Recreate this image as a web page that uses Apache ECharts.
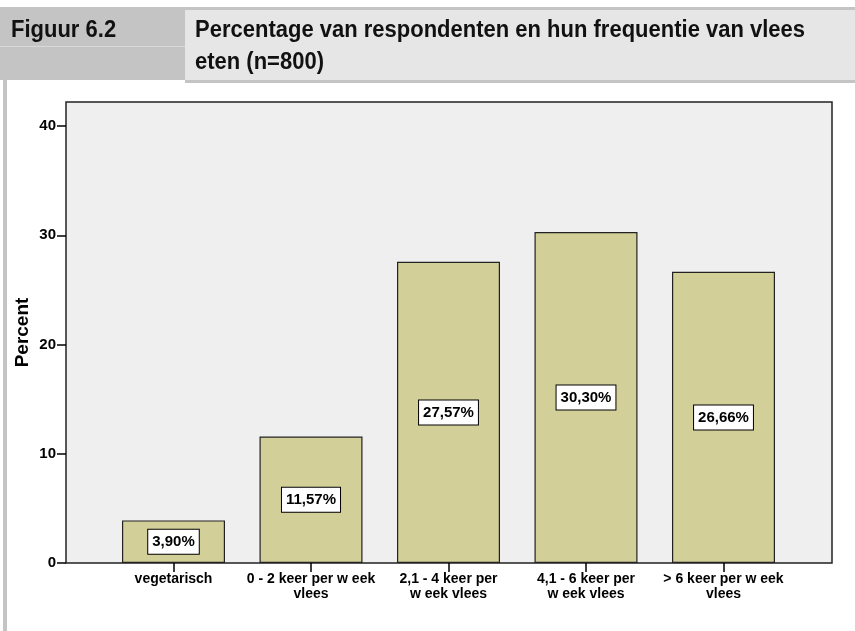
<!DOCTYPE html>
<html><head><meta charset="utf-8">
<script src="https://cdn.jsdelivr.net/npm/echarts@6/dist/echarts.min.js"></script>
<style>html,body{margin:0;padding:0;background:#fff}#c{width:855px;height:631px}</style>
</head><body><div id="c"></div>
<script>
const categories = ['vegetarisch', '0 - 2 keer per w eek\nvlees', '2,1 - 4 keer per\nw eek vlees', '4,1 - 6 keer per\nw eek vlees', '> 6 keer per w eek\nvlees'];
const percentValues = [3.90, 11.57, 27.57, 30.30, 26.66];
const percentLabels = ['3,90%', '11,57%', '27,57%', '30,30%', '26,66%'];
const yTicks = [0, 10, 20, 30, 40];
const figureNumber = 'Figuur 6.2';
const titleLines = ['Percentage van respondenten en hun frequentie van vlees', 'eten (n=800)'];
const yName = 'Percent';

const chart = echarts.init(document.getElementById('c'));
const FONT = '"Liberation Sans", Arial, sans-serif';
const HFONT = '"Liberation Sans", Arial, sans-serif';
const YMAX = 42.2;

chart.setOption({
  animation: false,
  backgroundColor: '#fff',
  graphic: [
    {type: 'rect', shape: {x: 0, y: 7, width: 185, height: 73}, style: {fill: '#c4c4c4'}, silent: true},
    {type: 'rect', shape: {x: 0, y: 46, width: 185, height: 1}, style: {fill: '#d9d9d9'}, silent: true},
    {type: 'rect', shape: {x: 185, y: 7, width: 670, height: 3}, style: {fill: '#c4c4c4'}, silent: true},
    {type: 'rect', shape: {x: 185, y: 10, width: 670, height: 70}, style: {fill: '#e6e6e6'}, silent: true},
    {type: 'rect', shape: {x: 185, y: 80, width: 670, height: 3}, style: {fill: '#c4c4c4'}, silent: true},
    {type: 'rect', shape: {x: 3, y: 80, width: 4, height: 551}, style: {fill: '#c4c4c4'}, silent: true},
    {type: 'text', x: 11, y: 30, scaleY: 1.08, style: {text: figureNumber, font: 'bold 22px ' + HFONT, fill: '#111', textVerticalAlign: 'middle'}, silent: true},
    {type: 'text', x: 195, y: 30, scaleY: 1.08, style: {text: titleLines[0], font: 'bold 22px ' + HFONT, fill: '#111', textVerticalAlign: 'middle'}, silent: true},
    {type: 'text', x: 195, y: 62, scaleY: 1.08, style: {text: titleLines[1], font: 'bold 22px ' + HFONT, fill: '#111', textVerticalAlign: 'middle'}, silent: true}
  ],
  grid: [
    {left: 66, right: 23, top: 102, bottom: 68, show: true, backgroundColor: '#efefef', borderColor: '#222', borderWidth: 1.5, z: 0},
    {left: 104.75, right: 62.75, top: 102, bottom: 68, show: false}
  ],
  xAxis: [
    {gridIndex: 0, type: 'value', show: false, min: 0, max: 1},
    {gridIndex: 1, type: 'category', data: categories,
     axisLine: {show: false},
     axisTick: {show: true, alignWithLabel: true, length: 9, lineStyle: {color: '#000', width: 1.5}},
     axisLabel: {color: '#000', fontFamily: FONT, fontWeight: 'bold', fontSize: 14, lineHeight: 15, margin: 9, interval: 0}}
  ],
  yAxis: [
    {gridIndex: 0, type: 'value', min: 0, max: YMAX, interval: 10,
     name: yName, nameLocation: 'middle', nameGap: 34, nameRotate: 90, nameMoveOverlap: false,
     nameTextStyle: {color: '#000', fontFamily: FONT, fontWeight: 'bold', fontSize: 19},
     axisLine: {show: false},
     axisTick: {show: true, inside: false, length: 9, customValues: yTicks, lineStyle: {color: '#000', width: 1.5}},
     axisLabel: {color: '#000', fontFamily: FONT, fontWeight: 'bold', fontSize: 15, margin: 10, customValues: yTicks},
     splitLine: {show: false}},
    {gridIndex: 1, type: 'value', min: 0, max: YMAX, show: false, splitLine: {show: false}}
  ],
  series: [{
    type: 'bar', xAxisIndex: 1, yAxisIndex: 1,
    data: percentValues, barWidth: 103,
    itemStyle: {color: '#d3cf98', borderColor: '#222', borderWidth: 1.2},
    label: {show: true, position: 'inside',
      formatter: p => percentLabels[p.dataIndex],
      color: '#000', fontFamily: FONT, fontWeight: 'bold', fontSize: 15,
      backgroundColor: '#fff', borderColor: '#000', borderWidth: 1, padding: [5, 4, 4, 4]}
  }]
});
</script></body></html>
